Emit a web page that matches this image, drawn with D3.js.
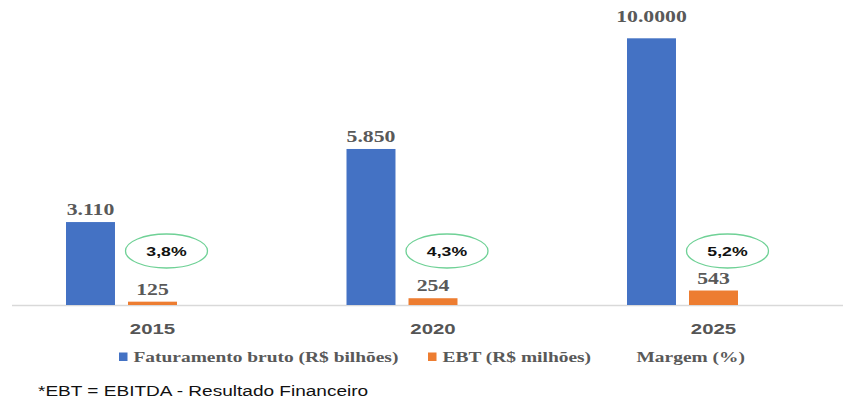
<!DOCTYPE html>
<html>
<head>
<meta charset="utf-8">
<script src="https://cdn.jsdelivr.net/npm/d3@7"></script>
<style>
  html, body { margin: 0; padding: 0; background: #ffffff; }
  svg { display: block; }
</style>
</head>
<body>
<div id="chart"></div>
<script>
// Chart data
const years = ["2015", "2020", "2025"];
const faturamento = [3110, 5850, 10000];          // R$ bilhões
const faturamentoLabels = ["3.110", "5.850", "10.0000"];
const ebt = [125, 254, 543];                       // R$ milhões
const margem = [3.8, 4.3, 5.2];                    // %
const seriesKeys = ["fat", "ebt", "margem"];
const legendNames = ["Faturamento bruto (R$ bilhões)", "EBT (R$ milhões)", "Margem (%)"];
const footnote = "*EBT = EBITDA - Resultado Financeiro";

const W = 843, H = 401;
const BLUE = "#4472C4", ORANGE = "#ED7D31", GREY = "#595959", GREEN = "#6fd196";
const SX = 1.36; // horizontal text stretch

const svg = d3.select("#chart").append("svg")
  .attr("width", W).attr("height", H);

const x0 = d3.scaleBand().domain(years).range([12.25, 853.75]).padding(0);
const x1 = d3.scaleBand().domain(seriesKeys).range([-86.5, 86.5]).paddingInner(0.21);
const y = d3.scaleLinear().domain([0, 10000]).range([305, 38.3]);

const cx = yr => x0(yr) + x0.bandwidth() / 2;

// helper: horizontally stretched text
function txt(parent, x, yy, s, opts) {
  const g = parent.append("g").attr("transform", `translate(${x},${yy}) scale(${SX},1)`);
  return g.append("text")
    .attr("text-anchor", opts.anchor || "middle")
    .attr("font-family", opts.family)
    .attr("font-weight", opts.weight || "normal")
    .attr("font-size", opts.size)
    .attr("fill", opts.fill || GREY)
    .text(s);
}

const SERIF = "'Liberation Serif', 'Times New Roman', serif";
const SANS = "'Liberation Sans', Arial, sans-serif";

// axis baseline
svg.append("line")
  .attr("x1", 12).attr("x2", W)
  .attr("y1", y(0) + 0.5).attr("y2", y(0) + 0.5)
  .attr("stroke", "#d9d9d9").attr("stroke-width", 1.5);

// bars
const groups = svg.selectAll("g.year").data(years).join("g")
  .attr("class", "year")
  .attr("transform", d => `translate(${cx(d)},0)`);

groups.append("rect")
  .attr("x", x1("fat")).attr("width", x1.bandwidth())
  .attr("y", (d, i) => y(faturamento[i]))
  .attr("height", (d, i) => y(0) - y(faturamento[i]))
  .attr("fill", BLUE);

groups.append("rect")
  .attr("x", x1("ebt")).attr("width", x1.bandwidth())
  .attr("y", (d, i) => y(ebt[i]))
  .attr("height", (d, i) => y(0) - y(ebt[i]))
  .attr("fill", ORANGE);

// value labels (the tallest bar's label sits clear of the plot top)
years.forEach((yr, i) => {
  const top = y(faturamento[i]);
  const ly = top < 60 ? top - 16 : top - 7;
  txt(svg, cx(yr) + x1("fat") + x1.bandwidth() / 2, ly,
      faturamentoLabels[i], { family: SERIF, weight: "bold", size: 16 });
  txt(svg, cx(yr) + x1("ebt") + x1.bandwidth() / 2, y(ebt[i]) - 7,
      String(ebt[i]), { family: SERIF, weight: "bold", size: 16 });
});

// margin callouts
const fmtPct = v => d3.format(".1f")(v).replace(".", ",") + "%";
years.forEach((yr, i) => {
  const ex = cx(yr) + 14, ey = 251;
  svg.append("ellipse")
    .attr("cx", ex).attr("cy", ey).attr("rx", 41).attr("ry", 17)
    .attr("fill", "none").attr("stroke", GREEN).attr("stroke-width", 1.3);
  txt(svg, ex, ey + 4.5, fmtPct(margem[i]),
      { family: SANS, weight: "bold", size: 13, fill: "#111111" });
});

// category labels
years.forEach(yr => {
  txt(svg, cx(yr), 333.5, yr, { family: SANS, weight: "bold", size: 15, fill: "#555555" });
});

// legend
const legendX = [119, 428, 622];
const legendColors = [BLUE, ORANGE, "#ffffff"];
legendNames.forEach((name, i) => {
  svg.append("rect")
    .attr("x", legendX[i]).attr("y", 352.5).attr("width", 8.5).attr("height", 8.5)
    .attr("fill", legendColors[i]);
  txt(svg, legendX[i] + 14.5, 362, name,
      { family: SERIF, weight: "bold", size: 14.3, anchor: "start" });
});

// footnote
txt(svg, 38, 395.5, footnote, { family: SANS, size: 14, fill: "#111111", anchor: "start" });
</script>
</body>
</html>
